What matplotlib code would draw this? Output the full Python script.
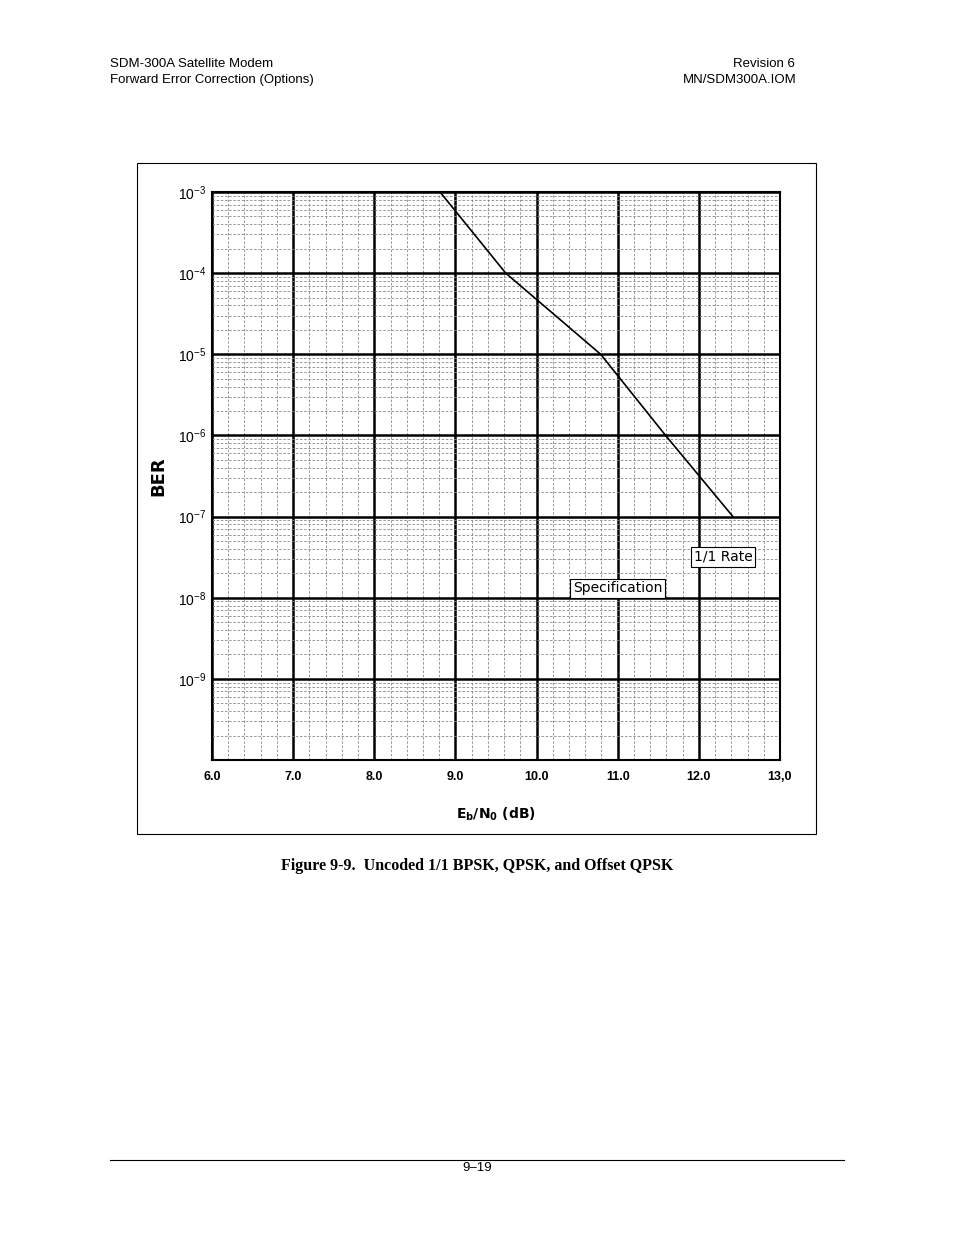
import matplotlib
matplotlib.use("Agg")
import matplotlib.pyplot as plt
import numpy as np
from matplotlib.ticker import FixedLocator, LogLocator, NullFormatter

ebn0 = [8.81, 9.62, 10.79, 11.59, 12.42]
ber = [1e-3, 1e-4, 1e-5, 1e-6, 1e-7]
xticks = [6.0, 7.0, 8.0, 9.0, 10.0, 11.0, 12.0, 13.0]
xticklabels = ["6.0", "7.0", "8.0", "9.0", "10.0", "11.0", "12.0", "13,0"]
yexp = [-3, -4, -5, -6, -7, -8, -9]

fig = plt.figure(figsize=(9.54, 12.35), dpi=100)
W, H = 954, 1235
def fx(x): return x / W
def fy(y): return 1 - y / H

# page header/footer
for x, y, s, ha in [(110, 64, "SDM-300A Satellite Modem", "left"),
                    (110, 80, "Forward Error Correction (Options)", "left"),
                    (795, 64, "Revision 6", "right"),
                    (797, 80, "MN/SDM300A.IOM", "right"),
                    (477, 1168, "9\u201319", "center")]:
    fig.text(fx(x), fy(y), s, ha=ha, va="center", fontsize=9.5, family="Liberation Sans")
fig.add_artist(plt.Line2D([fx(110), fx(844)], [fy(1160), fy(1160)], color="black", lw=0.8))
fig.text(fx(477), fy(866), "Figure 9-9.  Uncoded 1/1 BPSK, QPSK, and Offset QPSK",
         ha="center", va="center", fontsize=11.5, weight="bold", family="Liberation Serif")

# frame
fig.add_artist(plt.Rectangle((fx(137), fy(834)), fx(816 - 137), (834 - 163) / H,
                             fill=False, ec="black", lw=0.8))

ax = fig.add_axes([fx(212), fy(760), fx(780 - 212), (760 - 192) / H])
ax.set_yscale("log")
ax.set_xlim(6, 13)
ax.set_ylim(1e-10, 1e-3)
ax.xaxis.set_minor_locator(FixedLocator(np.arange(6, 13.01, 0.2)))
ax.yaxis.set_major_locator(FixedLocator([10.0 ** e for e in range(-10, -2)]))
ax.yaxis.set_minor_locator(LogLocator(base=10, subs=np.arange(2, 10), numticks=20))
ax.yaxis.set_minor_formatter(NullFormatter())
ax.grid(which="minor", color="#888888", lw=0.6, ls=(0, (3, 2)))
ax.grid(which="major", color="black", lw=1.8)
ax.set_axisbelow(True)
for s in ax.spines.values():
    s.set_linewidth(1.5)
ax.tick_params(which="both", length=0)
ax.set_xticks(xticks)
ax.set_xticklabels(xticklabels, fontsize=9, weight="bold", family="Liberation Sans")
ax.set_yticks([10.0 ** e for e in yexp])
ax.set_yticklabels([r"$\mathregular{10^{%d}}$" % e for e in yexp], fontsize=10, family="Liberation Sans")
ax.tick_params(axis="x", pad=8)
ax.tick_params(axis="y", pad=4)
ax.plot(ebn0, ber, color="black", lw=1.2)
ax.set_xlabel(r"$\mathregular{E_b/N_0}$ (dB)", fontsize=10, weight="bold", labelpad=16)
ax.set_ylabel("BER", fontsize=13, weight="bold", labelpad=8)
ax.text(12.3, 3.2e-8, "1/1 Rate", fontsize=10, ha="center", va="center",
        bbox=dict(fc="white", ec="black", lw=0.8, pad=2))
ax.text(11.0, 1.3e-8, "Specification", fontsize=10, ha="center", va="center",
        bbox=dict(fc="white", ec="black", lw=0.8, pad=2))
fig.savefig("out.png", dpi=100)
